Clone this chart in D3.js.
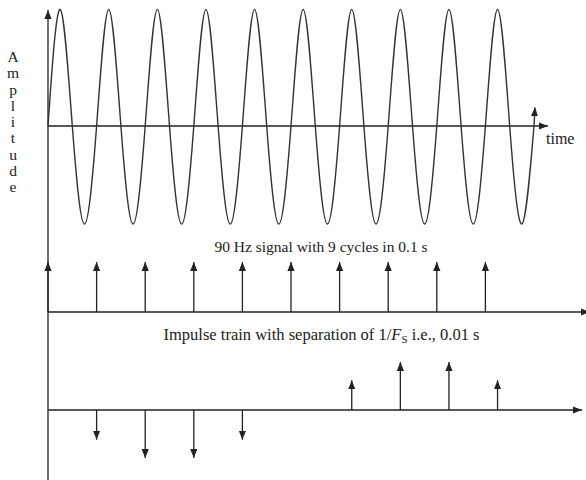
<!DOCTYPE html>
<html>
<head>
<meta charset="utf-8">
<script src="https://cdn.jsdelivr.net/npm/d3@7"></script>
<style>
  body { margin: 0; background: #fff; }
  svg text { font-family: 'Liberation Serif', 'DejaVu Serif', serif; fill: #222; }
</style>
</head>
<body>
<svg id="chart" width="586" height="480"></svg>
<script>
// signal key points (ms, amplitude)
const signalMs = [0, 2.5, 5, 7.5, 10, 12.5, 15, 17.5, 20, 22.5, 25, 27.5, 30, 32.5, 35, 37.5,
  40, 42.5, 45, 47.5, 50, 52.5, 55, 57.5, 60, 62.5, 65, 67.5, 70, 72.5, 75, 77.5,
  80, 82.5, 85, 87.5, 90, 92.5, 95, 97.5, 100]
const signalAmp = [0, 1, 0, -1, 0, 1, 0, -1, 0, 1, 0, -1, 0, 1, 0, -1,
  0, 1, 0, -1, 0, 1, 0, -1, 0, 1, 0, -1, 0, 1, 0, -1,
  0, 1, 0, -1, 0, 1, 0, -1, 0]
// where the wave stops, with its arrow head
const signalEnd = [100.2, 0.16]

// impulse train
const impulseMs = [0, 10, 20, 30, 40, 50, 60, 70, 80, 90]
const impulseAmp = [1, 1, 1, 1, 1, 1, 1, 1, 1, 1]

// sampled values
const sampleMs = [10, 20, 30, 40, 62.5, 72.5, 82.5, 92.5]
const sampleAmp = [-0.588, -0.951, -0.951, -0.588, 0.588, 0.951, 0.951, 0.588]

const yLabel = ['A', 'm', 'p', 'l', 'i', 't', 'u', 'd', 'e']
const signalCaption = '90 Hz signal with 9 cycles in 0.1 s'

window.addEventListener('load', makeChart)
function makeChart() {
  const svg = d3.select('#chart')
  const ink = '#222'

  const scX = d3.scaleLinear().domain([0, 100]).range([48, 534])
  const scTop = d3.scaleLinear().domain([-1, 0, 1]).range([224, 126, 9.5]) // zero line sits low
  const scMid = d3.scaleLinear().domain([0, 1]).range([312, 262])
  const scBot = d3.scaleLinear().domain([-1, 0, 1]).range([460.5, 410, 359.5])

  // arrow head
  svg
    .append('defs')
    .append('marker')
    .attr('id', 'head')
    .attr('viewBox', '-9 -4 10 8')
    .attr('refX', 0)
    .attr('refY', 0)
    .attr('markerUnits', 'userSpaceOnUse')
    .attr('markerWidth', 10)
    .attr('markerHeight', 8)
    .attr('orient', 'auto')
    .append('path')
    .attr('d', 'M0,0L-9,-3.6L-9,3.6Z')
    .attr('fill', ink)

  // vertical axis running through all three panels
  svg
    .append('line')
    .attr('x1', scX(0))
    .attr('x2', scX(0))
    .attr('y1', 480)
    .attr('y2', 10)
    .attr('stroke', ink)
    .attr('stroke-width', 1.3)
    .attr('marker-end', 'url(#head)')

  // horizontal axes
  const axes = [
    { y: scTop(0), end: 548 },
    { y: scMid(0), end: 590 },
    { y: scBot(0), end: 582 },
  ]
  svg
    .selectAll('line.axis')
    .data(axes)
    .enter()
    .append('line')
    .attr('class', 'axis')
    .attr('x1', scX(0))
    .attr('x2', (d) => d.end)
    .attr('y1', (d) => d.y)
    .attr('y2', (d) => d.y)
    .attr('stroke', ink)
    .attr('stroke-width', 1.3)
    .attr('marker-end', 'url(#head)')

  // sine wave, then a short straight piece so the head points along the rise
  const line = d3
    .line()
    .x((d, i) => scX(signalMs[i]))
    .y((d) => scTop(d))
    .curve(d3.curveNatural)
  const tail = 'L' + scX(signalEnd[0]) + ',' + scTop(signalEnd[1])
  svg
    .append('path')
    .attr('d', line(signalAmp) + tail)
    .attr('fill', 'none')
    .attr('stroke', '#333')
    .attr('stroke-width', 1.4)
    .attr('marker-end', 'url(#head)')

  // impulse train and sampled values
  drawStems(svg, impulseMs, impulseAmp, scX, scMid, ink)
  drawStems(svg, sampleMs, sampleAmp, scX, scBot, ink)

  // labels
  svg
    .append('text')
    .attr('x', 546)
    .attr('y', 144)
    .attr('font-size', 16)
    .text('time')

  svg
    .selectAll('text.ylab')
    .data(yLabel)
    .enter()
    .append('text')
    .attr('class', 'ylab')
    .attr('x', 13)
    .attr('y', (d, i) => 62 + 16.25 * i)
    .attr('text-anchor', 'middle')
    .attr('font-size', 15.5)
    .text((d) => d)

  svg
    .append('text')
    .attr('x', 321)
    .attr('y', 252)
    .attr('text-anchor', 'middle')
    .attr('font-size', 15.5)
    .text(signalCaption)

  const cap = svg
    .append('text')
    .attr('x', 321.5)
    .attr('y', 340)
    .attr('text-anchor', 'middle')
    .attr('font-size', 16.5)
  cap.append('tspan').text('Impulse train with separation of 1/')
  cap.append('tspan').attr('font-style', 'italic').text('F')
  cap.append('tspan').attr('font-size', 11).attr('dy', 3).text('S')
  cap.append('tspan').attr('dy', -3).text(' i.e., 0.01 s')
}

function drawStems(svg, xs, vals, scX, scY, ink) {
  svg
    .append('g')
    .selectAll('line')
    .data(vals)
    .enter()
    .append('line')
    .attr('x1', (d, i) => scX(xs[i]))
    .attr('x2', (d, i) => scX(xs[i]))
    .attr('y1', scY(0))
    .attr('y2', (d) => scY(d))
    .attr('stroke', ink)
    .attr('stroke-width', 1.3)
    .attr('marker-end', 'url(#head)')
}
</script>
</body>
</html>
